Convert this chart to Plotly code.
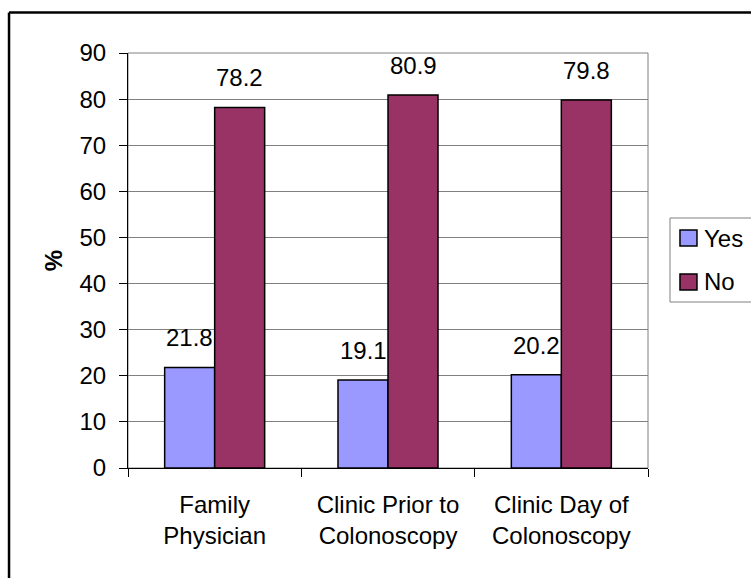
import plotly.graph_objects as go

# Source of information about the procedure, by response
categories = ["Family<br>Physician", "Clinic Prior to<br>Colonoscopy", "Clinic Day of<br>Colonoscopy"]
yes_values = [21.8, 19.1, 20.2]
no_values = [78.2, 80.9, 79.8]
y_ticks = [0, 10, 20, 30, 40, 50, 60, 70, 80, 90]
series_names = ["Yes", "No"]

FONT = "Arial, Liberation Sans, sans-serif"
YES_COLOR = "#9999FF"
NO_COLOR = "#993366"
series_colors = [YES_COLOR, NO_COLOR]

fig = go.Figure()
for name, values, color in zip(series_names, [yes_values, no_values], series_colors):
    fig.add_trace(go.Bar(
        name=name, x=categories, y=values, showlegend=False,
        marker=dict(color=color, line=dict(color="black", width=1.5)),
    ))

# Value labels above each bar (Yes sits left of centre, No right of centre)
annotations = []
for cat, yv, nv in zip(categories, yes_values, no_values):
    for val, shift in ((yv, -25), (nv, 25)):
        annotations.append(dict(
            x=cat, y=val, xref="x", yref="y", text=f"{val:.1f}",
            showarrow=False, xshift=shift, yshift=14, yanchor="bottom",
            font=dict(family=FONT, size=24, color="black"),
        ))

shapes = [
    # grey frame around the plot area
    dict(type="rect", xref="paper", yref="paper", x0=0, x1=1, y0=0, y1=1,
         line=dict(color="#808080", width=1), layer="below"),
    # outer chart border (top and left edges)
    dict(type="line", xref="paper", yref="paper", x0=-0.2288, x1=1.3, y0=1.0976, y1=1.0976,
         line=dict(color="black", width=2.5)),
    dict(type="line", xref="paper", yref="paper", x0=-0.2288, x1=-0.2288, y0=-0.3, y1=1.0976,
         line=dict(color="black", width=2.5)),
    # legend frame
    dict(type="rect", xref="paper", yref="paper", x0=1.0423, x1=1.2346, y0=0.400, y1=0.6024,
         line=dict(color="#808080", width=1), fillcolor="white"),
]

# Legend entries: swatch + label
legend_rows = [(0.5349, 0.5735, 0.5542), (0.4289, 0.4675, 0.4482)]
for name, color, (sy0, sy1, ty) in zip(series_names, series_colors, legend_rows):
    shapes.append(dict(type="rect", xref="paper", yref="paper",
                       x0=1.0615, x1=1.0942, y0=sy0, y1=sy1,
                       line=dict(color="black", width=1.5), fillcolor=color))
    annotations.append(dict(x=1.1038, y=ty, xref="paper", yref="paper", text=name,
                            showarrow=False, xanchor="left", yanchor="middle",
                            font=dict(family=FONT, size=24, color="black")))

fig.update_layout(
    width=751, height=578,
    margin=dict(l=128, r=103, t=53, b=110),
    paper_bgcolor="white", plot_bgcolor="white",
    barmode="group", bargap=0.423, bargroupgap=0,
    font=dict(family=FONT, size=24, color="black"),
    showlegend=False,
    annotations=annotations,
    shapes=shapes,
)

fig.update_xaxes(
    showline=True, linecolor="black", linewidth=1,
    ticks="outside", ticklen=8, tickcolor="black", tickson="boundaries",
    ticklabelstandoff=15,
    showgrid=False, tickfont=dict(family=FONT, size=24, color="black"),
)
fig.update_yaxes(
    range=[0, 90], tickvals=y_ticks,
    showline=True, linecolor="black", linewidth=1,
    ticks="outside", ticklen=8, tickcolor="black",
    ticklabelstandoff=8,
    showgrid=True, gridcolor="#808080", gridwidth=1,
    zeroline=False,
    tickfont=dict(family=FONT, size=24, color="black"),
    title=dict(text="<b>%</b>", standoff=10, font=dict(family=FONT, size=24, color="black")),
)

fig.write_html("out.html")
